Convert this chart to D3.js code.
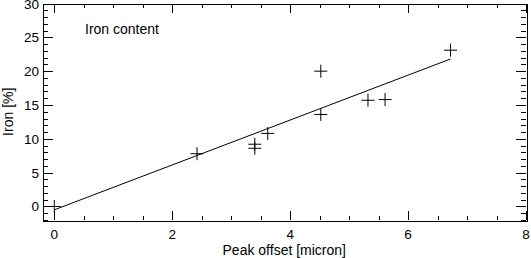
<!DOCTYPE html>
<html>
<head>
<meta charset="utf-8">
<script src="https://cdn.jsdelivr.net/npm/d3@7"></script>
<style>
  html, body { margin: 0; padding: 0; background: #fff; }
  svg { display: block; font-family: "Liberation Sans", Arial, sans-serif; }
</style>
</head>
<body>
<div id="chart"></div>
<script>
// measured points (peak offset in micron, iron in %)
const offsetX = [0, 2.42, 3.40, 3.40, 3.62, 4.52, 4.52, 5.32, 5.61, 6.72];
const ironY = [0, 7.8, 9.2, 8.6, 10.8, 20.0, 13.6, 15.7, 15.8, 23.1];
// linear fit end points
const fitX = [0, 6.72];
const fitY = [-0.5, 21.8];
const xTicks = [0, 2, 4, 6, 8];
const yTicks = [0, 5, 10, 15, 20, 25, 30];

const W = 531, H = 258;
const margin = { left: 42.5, right: 5, top: 3.5, bottom: 38 };

const svg = d3.select('#chart').append('svg')
  .attr('width', W)
  .attr('height', H);

const x = d3.scaleLinear().domain([-0.2, 8]).range([margin.left, W - margin.right]);
const y = d3.scaleLinear().domain([-2, 30]).range([H - margin.bottom, margin.top]);

const x0 = x.range()[0], x1 = x.range()[1];
const y0 = y.range()[0], y1 = y.range()[1];

// IDL-like inward ticks on all four sides
const ax = svg.append('g').attr('stroke', '#000').attr('stroke-width', 1).attr('shape-rendering', 'crispEdges');

d3.range(0, 8.01, 0.5).forEach((v) => {
  const len = v % 2 === 0 ? 9 : 4.5;
  const px = Math.round(x(v)) + 0.5;
  ax.append('line').attr('x1', px).attr('x2', px).attr('y1', y0).attr('y2', y0 - len);
  ax.append('line').attr('x1', px).attr('x2', px).attr('y1', y1).attr('y2', y1 + len);
});
d3.range(-2, 30.01, 1).forEach((v) => {
  const len = v % 5 === 0 ? 10 : 5;
  const py = Math.round(y(v)) + 0.5;
  ax.append('line').attr('x1', x0).attr('x2', x0 + len).attr('y1', py).attr('y2', py);
  ax.append('line').attr('x1', x1).attr('x2', x1 - len).attr('y1', py).attr('y2', py);
});

ax.append('rect')
  .attr('x', Math.round(x0) + 0.5)
  .attr('y', Math.round(y1) + 0.5)
  .attr('width', Math.round(x1 - x0))
  .attr('height', Math.round(y0 - y1))
  .attr('fill', 'none');

// tick labels
svg.append('g').selectAll('text')
  .data(xTicks)
  .join('text')
  .attr('x', (d) => x(d))
  .attr('y', y0 + 19)
  .attr('text-anchor', 'middle')
  .attr('font-size', 13.5)
  .text((d) => d);

svg.append('g').selectAll('text')
  .data(yTicks)
  .join('text')
  .attr('x', x0 - 3.5)
  .attr('y', (d) => y(d) + 5)
  .attr('text-anchor', 'end')
  .attr('font-size', 13.5)
  .text((d) => d);

// axis titles
svg.append('text')
  .attr('x', (x0 + x1) / 2)
  .attr('y', H - 3)
  .attr('text-anchor', 'middle')
  .attr('font-size', 14)
  .text('Peak offset [micron]');

svg.append('text')
  .attr('transform', `translate(12.5, ${(y0 + y1) / 2}) rotate(-90)`)
  .attr('text-anchor', 'middle')
  .attr('font-size', 14)
  .text('Iron [%]');

svg.append('text')
  .attr('x', 85)
  .attr('y', 34)
  .attr('font-size', 14)
  .text('Iron content');

// fit line
svg.append('path')
  .datum(fitX.map((v, i) => [v, fitY[i]]))
  .attr('d', d3.line().x((d) => x(d[0])).y((d) => y(d[1])))
  .attr('fill', 'none')
  .attr('stroke', '#000')
  .attr('stroke-width', 1);

// plus markers
const s = 6.5;
const pts = svg.append('g').attr('stroke', '#000').attr('stroke-width', 1);
offsetX.forEach((v, i) => {
  const cx = x(v), cy = y(ironY[i]);
  pts.append('line').attr('x1', cx - s).attr('x2', cx + s).attr('y1', cy).attr('y2', cy);
  pts.append('line').attr('x1', cx).attr('x2', cx).attr('y1', cy - s).attr('y2', cy + s);
});
</script>
</body>
</html>
